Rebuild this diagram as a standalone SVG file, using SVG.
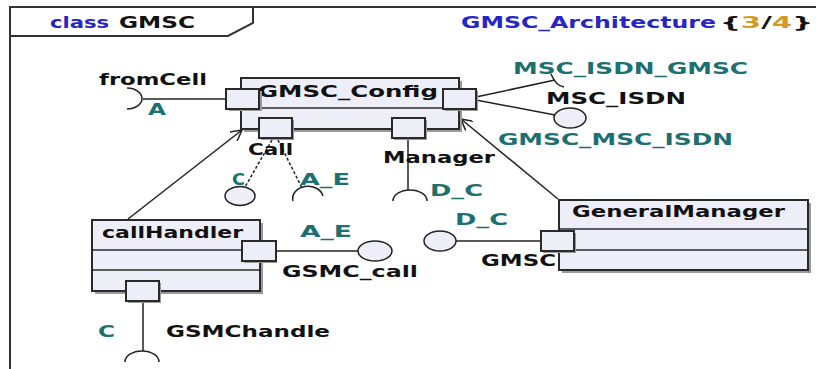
<svg xmlns="http://www.w3.org/2000/svg" width="816" height="369" viewBox="0 0 816 369">
<style>
text{font-family:"DejaVu Sans",Verdana,sans-serif;font-weight:bold;font-size:16px}
.k{fill:#111}
.t{fill:#1d7070}
.b{fill:#2626c8}
.o{fill:#d49a28}
.box{fill:#eeeef9;stroke:#2a2a2a;stroke-width:2}
.sh{fill:#9a9a9a}
.ln{fill:none;stroke:#222;stroke-width:1.5}
.dl{fill:none;stroke:#222;stroke-width:1.5;stroke-dasharray:3 2}
.lol{fill:#eeeef9;stroke:#222;stroke-width:1.5}
.frm{fill:none;stroke:#333;stroke-width:2}
</style>
<defs>
<marker id="ar" viewBox="0 0 12 12" refX="11" refY="6" markerWidth="12" markerHeight="12" markerUnits="userSpaceOnUse" orient="auto">
<path d="M0,0 L11,6 L0,12" fill="none" stroke="#222" stroke-width="1.5"/>
</marker>
</defs>
<rect width="816" height="369" fill="#fff"/>
<g id="frame">
<path class="frm" d="M10,369 L10,7 L816,7"/>
<path class="frm" d="M10,36 L228,36 L253,23 L253,7"/>
<text x="50" y="28" textLength="59" lengthAdjust="spacingAndGlyphs" class="b">class</text>
<text x="119" y="28" textLength="76" lengthAdjust="spacingAndGlyphs" class="k">GMSC</text>
<text x="461" y="28" textLength="255" lengthAdjust="spacingAndGlyphs" class="b">GMSC_Architecture</text>
<text x="720" y="28" textLength="93" lengthAdjust="spacingAndGlyphs"><tspan class="k">{</tspan><tspan class="o">3</tspan><tspan class="k">/</tspan><tspan class="o">4</tspan><tspan class="k">}</tspan></text>
</g>
<g id="connectors">
<line class="ln" x1="143" y1="99" x2="226" y2="99"/>
<path class="ln" d="M127,88 A15,10.5 0 0 1 127,109"/>
<line class="ln" x1="476" y1="97" x2="555" y2="80"/>
<path class="ln" d="M551,74 Q556,86 564,87"/>
<line class="ln" x1="476" y1="100" x2="555" y2="115"/>
<ellipse class="lol" cx="570" cy="118" rx="16" ry="10"/>
<line class="dl" x1="272" y1="140" x2="245" y2="187"/>
<ellipse class="lol" cx="240" cy="196" rx="15" ry="9.5"/>
<line class="dl" x1="278" y1="140" x2="302" y2="188"/>
<path class="ln" d="M293,201 A15,12 0 0 1 323,196"/>
<line class="ln" x1="408" y1="138" x2="408" y2="190"/>
<path class="ln" d="M393,201 A17,11 0 0 1 427,201"/>
<line class="ln" x1="128" y1="219" x2="242" y2="130" marker-end="url(#ar)"/>
<line class="ln" x1="558" y1="199" x2="461" y2="119" marker-end="url(#ar)"/>
<line class="ln" x1="277" y1="251" x2="358" y2="251"/>
<ellipse class="lol" cx="375" cy="251" rx="17" ry="10"/>
<line class="ln" x1="541" y1="241" x2="456" y2="241"/>
<ellipse class="lol" cx="440" cy="241" rx="16" ry="10"/>
<line class="ln" x1="143" y1="301" x2="143" y2="351"/>
<path class="ln" d="M125,362 A17,11 0 0 1 159,362"/>
</g>
<g id="labels">
<text x="99" y="85" textLength="108" lengthAdjust="spacingAndGlyphs" class="k">fromCell</text>
<text x="148" y="115" textLength="18" lengthAdjust="spacingAndGlyphs" class="t">A</text>
<text x="513" y="74" textLength="235" lengthAdjust="spacingAndGlyphs" class="t">MSC_ISDN_GMSC</text>
<text x="546" y="104" textLength="140" lengthAdjust="spacingAndGlyphs" class="k">MSC_ISDN</text>
<text x="498" y="145" textLength="235" lengthAdjust="spacingAndGlyphs" class="t">GMSC_MSC_ISDN</text>
<text x="248" y="155" textLength="45" lengthAdjust="spacingAndGlyphs" class="k">Call</text>
<text x="383" y="163" textLength="112" lengthAdjust="spacingAndGlyphs" class="k">Manager</text>
<text x="232" y="185" textLength="13" lengthAdjust="spacingAndGlyphs" class="t">C</text>
<text x="300" y="185" textLength="50" lengthAdjust="spacingAndGlyphs" class="t">A_E</text>
<text x="430" y="196" textLength="53" lengthAdjust="spacingAndGlyphs" class="t">D_C</text>
<text x="300" y="237" textLength="52" lengthAdjust="spacingAndGlyphs" class="t">A_E</text>
<text x="282" y="277" textLength="136" lengthAdjust="spacingAndGlyphs" class="k">GSMC_call</text>
<text x="455" y="225" textLength="53" lengthAdjust="spacingAndGlyphs" class="t">D_C</text>
<text x="481" y="266" textLength="75" lengthAdjust="spacingAndGlyphs" class="k">GMSC</text>
<text x="98" y="337" textLength="17" lengthAdjust="spacingAndGlyphs" class="t">C</text>
<text x="166" y="337" textLength="164" lengthAdjust="spacingAndGlyphs" class="k">GSMChandle</text>
</g>
<g id="GMSC_Config">
<rect class="sh" x="244" y="81" width="218" height="51"/>
<rect class="box" x="241" y="78" width="218" height="51"/>
<line stroke="#2a2a2a" stroke-width="1.5" x1="241" y1="108" x2="459" y2="108"/>
<text x="258" y="97" textLength="180" lengthAdjust="spacingAndGlyphs" class="k">GMSC_Config</text>
<rect class="sh" x="229" y="91" width="33" height="20"/>
<rect class="box" x="226" y="89" width="33" height="20"/>
<rect class="sh" x="445" y="91" width="33" height="20"/>
<rect class="box" x="443" y="89" width="33" height="20"/>
<rect class="sh" x="261" y="120" width="33" height="20"/>
<rect class="box" x="259" y="118" width="33" height="20"/>
<rect class="sh" x="394" y="120" width="33" height="20"/>
<rect class="box" x="392" y="118" width="33" height="20"/>
</g>
<g id="callHandler">
<rect class="sh" x="95" y="223" width="168" height="71"/>
<rect class="box" x="92" y="220" width="168" height="71"/>
<line stroke="#2a2a2a" stroke-width="1.5" x1="92" y1="250" x2="260" y2="250"/>
<line stroke="#2a2a2a" stroke-width="1.5" x1="92" y1="270" x2="260" y2="270"/>
<text x="102" y="238" textLength="141" lengthAdjust="spacingAndGlyphs" class="k">callHandler</text>
<rect class="sh" x="244" y="243" width="33" height="20"/>
<rect class="box" x="242" y="241" width="34" height="20"/>
<rect class="sh" x="128" y="283" width="33" height="20"/>
<rect class="box" x="126" y="281" width="33" height="20"/>
</g>
<g id="GeneralManager">
<rect class="sh" x="562" y="203" width="249" height="70"/>
<rect class="box" x="559" y="200" width="249" height="70"/>
<line stroke="#2a2a2a" stroke-width="1.5" x1="559" y1="229" x2="808" y2="229"/>
<line stroke="#2a2a2a" stroke-width="1.5" x1="559" y1="250" x2="808" y2="250"/>
<text x="572" y="217" textLength="213" lengthAdjust="spacingAndGlyphs" class="k">GeneralManager</text>
<rect class="sh" x="543" y="233" width="33" height="20"/>
<rect class="box" x="541" y="231" width="33" height="20"/>
</g>
</svg>
